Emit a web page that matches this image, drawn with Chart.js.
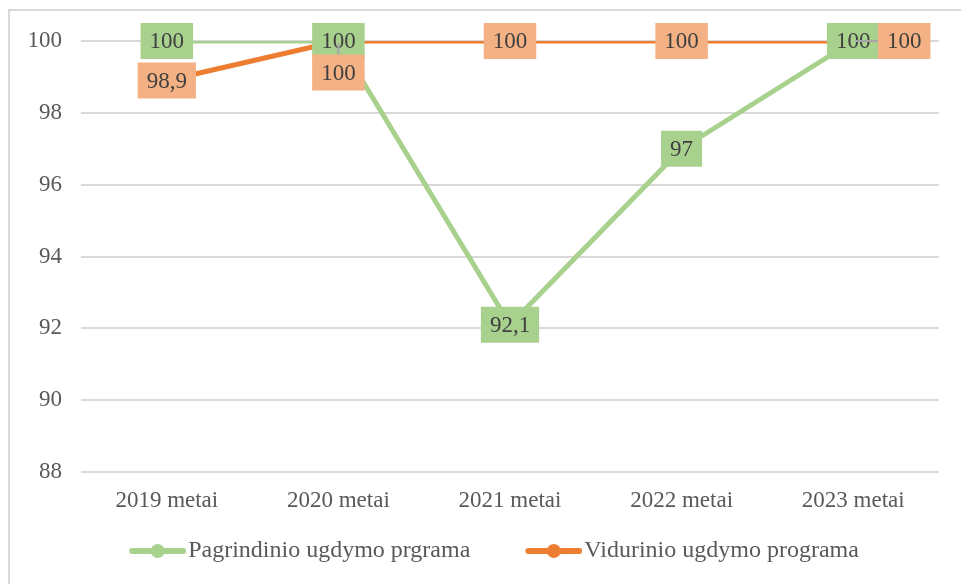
<!DOCTYPE html>
<html>
<head>
<meta charset="utf-8">
<script src="https://cdn.jsdelivr.net/npm/chart.js@4.4.1/dist/chart.umd.min.js"></script>
<style>
html, body { margin: 0; padding: 0; background: #fff; }
#wrap { position: relative; width: 961px; height: 584px; overflow: hidden; background: #fff; }
#frame { position: absolute; left: 8px; top: 9px; width: 980px; height: 600px;
         border-left: 2px solid #d9d9d9; border-top: 2px solid #d9d9d9; }
#myChart { position: absolute; left: 0; top: 0; }
</style>
</head>
<body>
<div id="wrap">
  <div id="frame"></div>
  <canvas id="myChart" width="961" height="584"></canvas>
</div>
<script>
// data
const categories = ['2019 metai', '2020 metai', '2021 metai', '2022 metai', '2023 metai'];
const pagrindinio = [100, 100, 92.1, 97, 100];
const vidurinio = [98.9, 100, 100, 100, 100];
const seriesNames = ['Pagrindinio ugdymo prgrama', 'Vidurinio ugdymo programa'];
const yMin = 88;
const yMax = 100;
const yStep = 2;

// where each value label sits relative to its point
const greenLabelPos = ['center', 'center', 'center', 'center', 'center'];
const orangeLabelPos = ['center', 'below', 'center', 'center', 'right'];

const serif = '"Liberation Serif", "Times New Roman", serif';

// legend marker: line with a dot, pushed to the right of a wide canvas
function legendMark(color) {
    const c = document.createElement('canvas');
    c.width = 112;
    c.height = 16;
    const g = c.getContext('2d');
    g.strokeStyle = color;
    g.lineWidth = 6;
    g.lineCap = 'round';
    g.beginPath();
    g.moveTo(58, 8);
    g.lineTo(109, 8);
    g.stroke();
    g.fillStyle = color;
    g.beginPath();
    g.arc(83.5, 8, 7, 0, Math.PI * 2);
    g.fill();
    return c;
}

// boxed value labels, drawn after the lines
const boxLabels = {
    id: 'boxLabels',
    afterDatasetsDraw(chart) {
        const ctx = chart.ctx;
        ctx.save();
        ctx.font = '23px ' + serif;
        ctx.textAlign = 'center';
        ctx.textBaseline = 'middle';
        chart.data.datasets.forEach((ds, di) => {
            const meta = chart.getDatasetMeta(di);
            meta.data.forEach((pt, i) => {
                const txt = String(ds.data[i]).replace('.', ',');
                const w = ctx.measureText(txt).width + 18;
                const h = 36;
                let cx = pt.x, cy = pt.y;
                const pos = ds.labelPos[i];
                if (pos === 'below') cy += 31.5;
                if (pos === 'right') cx += 51;
                ctx.fillStyle = ds.labelFill;
                ctx.fillRect(cx - w / 2, cy - h / 2, w, h);
                ctx.fillStyle = '#404040';
                ctx.fillText(txt, cx, cy + 1);
                // leader line
                if (pos !== 'center') {
                    ctx.strokeStyle = '#a6a6a6';
                    ctx.lineWidth = 2;
                    ctx.beginPath();
                    if (pos === 'below') {
                        ctx.moveTo(pt.x, pt.y + 2);
                        ctx.lineTo(pt.x, cy - h / 2);
                    } else {
                        ctx.moveTo(pt.x + 2, pt.y);
                        ctx.lineTo(cx - w / 2, pt.y);
                    }
                    ctx.stroke();
                }
            });
        });
        ctx.restore();
    }
};

const chart = new Chart(document.getElementById('myChart'), {
    type: 'line',
    data: {
        labels: categories,
        datasets: [
            {
                label: seriesNames[0],
                data: pagrindinio,
                borderColor: '#a9d18e',
                backgroundColor: '#a9d18e',
                borderWidth: 5,
                borderJoinStyle: 'round',
                pointRadius: 0,
                pointHoverRadius: 0,
                pointStyle: legendMark('#a9d18e'),
                labelFill: '#a9d18e',
                labelPos: greenLabelPos,
                order: 1
            },
            {
                label: seriesNames[1],
                data: vidurinio,
                borderColor: '#ed7d31',
                backgroundColor: '#ed7d31',
                borderWidth: 5,
                borderJoinStyle: 'round',
                pointRadius: 0,
                pointHoverRadius: 0,
                pointStyle: legendMark('#ed7d31'),
                labelFill: '#f4b183',
                labelPos: orangeLabelPos,
                order: 0
            }
        ]
    },
    options: {
        responsive: false,
        animation: false,
        events: [],
        layout: { padding: { left: 4, right: 22, top: 41, bottom: 11 } },
        scales: {
            x: {
                offset: true,
                grid: { display: false, drawTicks: false },
                border: { display: false },
                ticks: { color: '#595959', font: { family: serif, size: 23 }, padding: 15 },
                afterFit: s => { s.height = 57; }
            },
            y: {
                min: yMin,
                max: yMax,
                grid: { color: '#d9d9d9', lineWidth: 2, drawTicks: false },
                border: { display: false },
                ticks: { stepSize: yStep, color: '#595959', font: { family: serif, size: 23 }, padding: 19 },
                afterFit: s => { s.width = 77; }
            }
        },
        plugins: {
            legend: {
                position: 'bottom',
                labels: {
                    usePointStyle: true,
                    pointStyleWidth: 92,
                    padding: 10,
                    color: '#595959',
                    font: { family: serif, size: 24 },
                    sort: (a, b) => a.datasetIndex - b.datasetIndex
                }
            },
            tooltip: { enabled: false }
        }
    },
    plugins: [boxLabels]
});
</script>
</body>
</html>
